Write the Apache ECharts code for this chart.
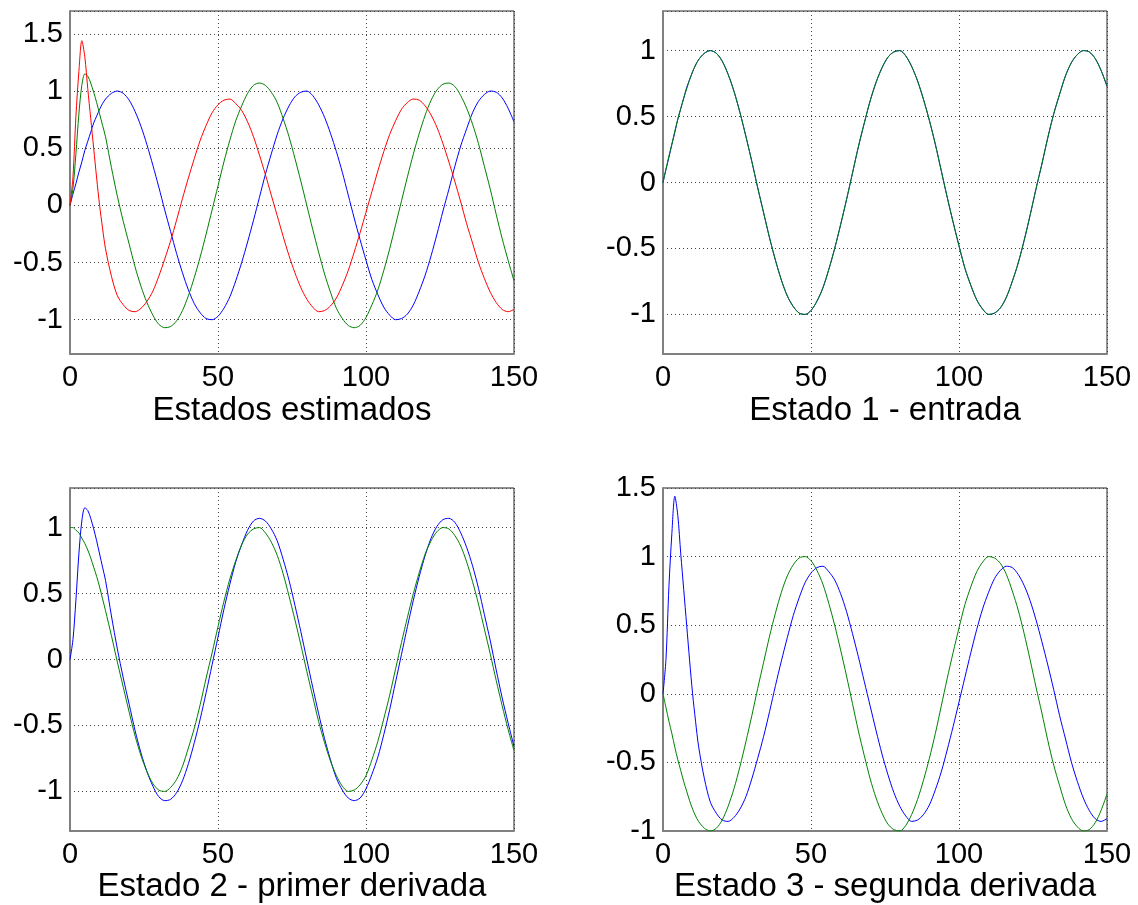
<!DOCTYPE html>
<html>
<head>
<meta charset="utf-8">
<script src="https://cdn.jsdelivr.net/npm/echarts@6/dist/echarts.min.js"></script>
<style>
html,body{margin:0;padding:0;background:#fff;}
#chart{width:1138px;height:905px;}
</style>
</head>
<body>
<div id="chart"></div>
<script>
// Sample positions (x axis)
const tVals = [0,1,2,3,4,5,6,7,8,9,10,11,12,
  14,16,18,20,22,24,26,28,30,32,34,36,38,40,42,44,46,48,50,52,54,56,58,60,62,64,66,68,70,72,74,76,78,80,
  82,84,86,88,90,92,94,96,98,100,102,104,106,108,110,112,114,116,118,120,122,124,126,128,130,132,134,136,138,140,142,144,146,148,150];

// Real states
const real1 = [0,0.10,0.20,0.29,0.39,0.48,0.56,0.64,0.71,0.78,0.84,0.89,0.93,
  0.98,1.00,0.98,0.92,0.82,0.69,0.53,0.35,0.16,-0.04,-0.23,-0.42,-0.59,-0.74,-0.86,-0.94,-0.99,-1.00,-0.97,-0.90,-0.80,-0.66,-0.50,-0.32,-0.13,0.07,0.27,0.45,0.62,0.76,0.87,0.95,0.99,1.00,
  0.96,0.88,0.77,0.63,0.47,0.29,0.09,-0.11,-0.30,-0.48,-0.65,-0.78,-0.89,-0.96,-1.00,-0.99,-0.95,-0.87,-0.75,-0.61,-0.44,-0.25,-0.05,0.14,0.34,0.52,0.67,0.81,0.91,0.97,1.00,0.99,0.94,0.85,0.73];
const real2 = [1,1.00,0.98,0.96,0.92,0.88,0.83,0.77,0.70,0.63,0.55,0.46,0.37,
  0.18,-0.02,-0.21,-0.40,-0.58,-0.73,-0.85,-0.94,-0.99,-1.00,-0.97,-0.91,-0.81,-0.67,-0.52,-0.34,-0.14,0.05,0.25,0.44,0.61,0.75,0.87,0.95,0.99,1.00,0.96,0.89,0.79,0.65,0.48,0.30,0.11,-0.09,
  -0.28,-0.47,-0.63,-0.77,-0.88,-0.96,-1.00,-0.99,-0.95,-0.88,-0.76,-0.62,-0.45,-0.27,-0.07,0.13,0.32,0.50,0.66,0.80,0.90,0.97,1.00,0.99,0.94,0.86,0.74,0.59,0.42,0.23,0.04,-0.16,-0.35,-0.53,-0.69];
const real3 = [0,-0.10,-0.20,-0.29,-0.39,-0.48,-0.56,-0.64,-0.71,-0.78,-0.84,-0.89,-0.93,
  -0.98,-1.00,-0.98,-0.92,-0.82,-0.69,-0.53,-0.35,-0.16,0.04,0.23,0.42,0.59,0.74,0.86,0.94,0.99,1.00,0.97,0.90,0.80,0.66,0.50,0.32,0.13,-0.07,-0.27,-0.45,-0.62,-0.76,-0.87,-0.95,-0.99,-1.00,
  -0.96,-0.88,-0.77,-0.63,-0.47,-0.29,-0.09,0.11,0.30,0.48,0.65,0.78,0.89,0.96,1.00,0.99,0.95,0.87,0.75,0.61,0.44,0.25,0.05,-0.14,-0.34,-0.52,-0.67,-0.81,-0.91,-0.97,-1.00,-0.99,-0.94,-0.85,-0.73];

// Estimated states
const est1 = [0,0.10,0.19,0.29,0.38,0.48,0.56,0.64,0.72,0.78,0.84,0.89,0.93,
  0.98,1.00,0.98,0.92,0.82,0.69,0.53,0.35,0.16,-0.04,-0.23,-0.42,-0.59,-0.74,-0.86,-0.94,-0.99,-1.00,-0.97,-0.90,-0.80,-0.66,-0.50,-0.32,-0.13,0.07,0.27,0.45,0.62,0.76,0.87,0.95,0.99,1.00,
  0.96,0.88,0.77,0.63,0.47,0.29,0.09,-0.11,-0.30,-0.48,-0.65,-0.78,-0.89,-0.96,-1.00,-0.99,-0.95,-0.87,-0.75,-0.61,-0.44,-0.25,-0.05,0.14,0.34,0.52,0.67,0.81,0.91,0.97,1.00,0.99,0.94,0.85,0.73];
const est2 = [0,0.15,0.45,0.80,1.05,1.15,1.13,1.07,0.99,0.90,0.80,0.70,0.60,
  0.33,0.08,-0.14,-0.34,-0.54,-0.71,-0.85,-0.96,-1.04,-1.07,-1.06,-1.01,-0.92,-0.79,-0.63,-0.45,-0.25,-0.04,0.17,0.38,0.57,0.74,0.87,0.98,1.05,1.07,1.05,0.99,0.90,0.76,0.60,0.41,0.21,0.00,
  -0.21,-0.41,-0.60,-0.76,-0.90,-0.99,-1.05,-1.07,-1.05,-0.98,-0.87,-0.74,-0.57,-0.38,-0.17,0.04,0.25,0.45,0.63,0.79,0.92,1.01,1.06,1.07,1.04,0.96,0.85,0.71,0.54,0.34,0.14,-0.08,-0.29,-0.48,-0.66];
const est3 = [0,0.25,0.78,1.17,1.44,1.30,1.02,0.76,0.50,0.24,0.00,-0.20,-0.38,
  -0.62,-0.79,-0.87,-0.92,-0.93,-0.90,-0.84,-0.75,-0.62,-0.47,-0.31,-0.13,0.06,0.24,0.41,0.57,0.70,0.81,0.88,0.92,0.93,0.89,0.83,0.73,0.60,0.44,0.27,0.09,-0.09,-0.27,-0.44,-0.59,-0.72,-0.82,
  -0.89,-0.93,-0.92,-0.88,-0.81,-0.70,-0.57,-0.41,-0.24,-0.06,0.12,0.30,0.47,0.62,0.74,0.84,0.90,0.93,0.92,0.87,0.79,0.68,0.54,0.38,0.21,0.03,-0.16,-0.33,-0.50,-0.64,-0.76,-0.85,-0.91,-0.93,-0.91];

const titles = ['Estados estimados', 'Estado 1 - entrada', 'Estado 2 - primer derivada', 'Estado 3 - segunda derivada'];
const yRanges = [[-1.3, 1.7], [-1.3, 1.3], [-1.3, 1.3], [-1, 1.5]];
const xTicks = [0, 50, 100, 150];

const FONT = '"Liberation Sans", Arial, sans-serif';
const pairs = arr => tVals.map((t, i) => [t, arr[i]]);

const grids = [
  {left: 70, top: 11, width: 444, height: 343},
  {left: 663, top: 11, width: 444, height: 343},
  {left: 70, top: 488, width: 444, height: 343},
  {left: 663, top: 488, width: 444, height: 343}
];

const dotted = {color: '#444', width: 1, type: [1, 3]};

const xAxes = grids.map((g, i) => ({
  type: 'value', gridIndex: i, min: xTicks[0], max: xTicks[xTicks.length - 1], interval: xTicks[1] - xTicks[0],
  axisLine: {show: true, onZero: false, lineStyle: {color: '#808080', width: 2}},
  axisTick: {show: false},
  axisLabel: {fontSize: 29, color: '#000', fontFamily: FONT, margin: 9},
  splitLine: {show: true, lineStyle: dotted}
}));

const yAxes = grids.map((g, i) => {
  const ax = {
    type: 'value', gridIndex: i, min: yRanges[i][0], max: yRanges[i][1],
    axisLine: {show: true, onZero: false, lineStyle: {color: '#808080', width: 2}},
    axisTick: {show: false},
    axisLabel: {fontSize: 29, color: '#000', fontFamily: FONT, margin: 7,
      showMinLabel: i === 3, showMaxLabel: i === 3},
    splitLine: {show: true, lineStyle: dotted}
  };
  if (i === 3) ax.interval = 0.5;
  return ax;
});

const mk = (name, arr, color, idx) => ({
  name, type: 'line', xAxisIndex: idx, yAxisIndex: idx, data: pairs(arr),
  showSymbol: false, smooth: 0.3, lineStyle: {color, width: 1}, itemStyle: {color},
  animation: false, silent: true
});

const series = [
  mk('Estado 1', est1, '#0000ff', 0),
  mk('Estado 2', est2, '#008000', 0),
  mk('Estado 3', est3, '#ff0000', 0),
  mk('Estimado 1', est1, '#0000ff', 1),
  mk('Real 1', real1, '#008000', 1),
  mk('Estimado 2', est2, '#0000ff', 2),
  mk('Real 2', real2, '#008000', 2),
  mk('Estimado 3', est3, '#0000ff', 3),
  mk('Real 3', real3, '#008000', 3)
];

const titleY = [411, 411, 887, 887];
const graphic = grids.map((g, i) => ({
  type: 'text', x: g.left + g.width / 2, y: titleY[i], silent: true,
  style: {text: titles[i], fontSize: 33, fontFamily: FONT, fill: '#000', textAlign: 'center', textVerticalAlign: 'middle'}
}));

const chart = echarts.init(document.getElementById('chart'), null, {renderer: 'canvas'});
chart.setOption({
  animation: false,
  backgroundColor: '#fff',
  grid: grids.map(g => Object.assign({show: true, borderColor: '#222', borderWidth: 1, containLabel: false}, g)),
  xAxis: xAxes,
  yAxis: yAxes,
  series,
  graphic
});
</script>
</body>
</html>
